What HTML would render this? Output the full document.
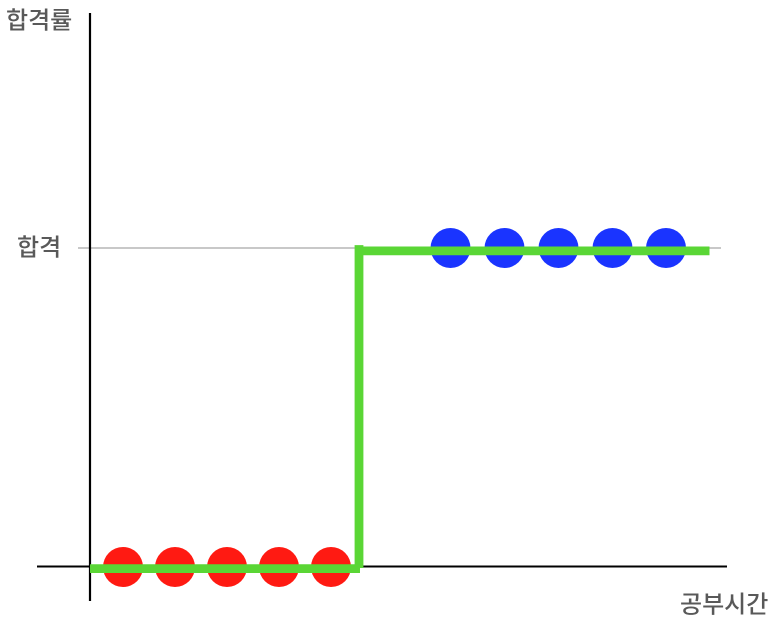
<!DOCTYPE html>
<html lang="ko">
<head>
<meta charset="utf-8">
<title>공부시간과 합격률</title>
<style>
html,body{margin:0;padding:0;background:#fff;width:773px;height:627px;overflow:hidden}
svg{display:block}
text{font-family:"Liberation Sans","Noto Sans CJK KR",sans-serif;font-size:24px;font-weight:500;fill:#595959}
</style>
</head>
<body>
<svg id="chart" width="773" height="627" viewBox="0 0 773 627" xmlns="http://www.w3.org/2000/svg">
  <line x1="78" y1="248" x2="721" y2="248" stroke="#a8a8a8" stroke-width="1.2"/>
  <line x1="37" y1="566.5" x2="727" y2="566.5" stroke="#000" stroke-width="2"/>
  <line x1="90" y1="13" x2="90" y2="601" stroke="#000" stroke-width="2.2"/>
  <text x="6" y="28.5">합격률</text>
  <text x="17" y="255.5">합격</text>
  <text x="680" y="612.5">공부시간</text>
  <g id="marks"></g>
  <g id="step"></g>
</svg>
<script>
var failHours = [3.3, 8.5, 13.7, 18.9, 24.1];
var failValues = [0, 0, 0, 0, 0];
var passHours = [36.05, 41.45, 46.85, 52.25, 57.6];
var passValues = [1, 1, 1, 1, 1];
var stepHours = [0, 27, 26.9, 26.9, 26.9, 61.95];
var stepValues = [-0.005, -0.005, -0.003, 1.009, 0.991, 0.991];

function xScale(h) { return 90 + h * 10; }
function yScale(v) { return 567 - v * 319; }

var NS = 'http://www.w3.org/2000/svg';
var marks = document.getElementById('marks');
var step = document.getElementById('step');

function addPoints(hours, values, color, name) {
  hours.forEach(function (h, i) {
    var c = document.createElementNS(NS, 'circle');
    c.setAttribute('cx', xScale(h));
    c.setAttribute('cy', yScale(values[i]));
    c.setAttribute('r', 20);
    c.setAttribute('fill', color);
    
    
    marks.appendChild(c);
  });
}
addPoints(failHours, failValues, '#ff1a12', 'fail-point');
addPoints(passHours, passValues, '#1a34ff', 'pass-point');

for (var i = 0; i < stepHours.length - 1; i += 2) {
  var seg = document.createElementNS(NS, 'line');
  seg.setAttribute('x1', xScale(stepHours[i]));
  seg.setAttribute('y1', yScale(stepValues[i]));
  seg.setAttribute('x2', xScale(stepHours[i + 1]));
  seg.setAttribute('y2', yScale(stepValues[i + 1]));
  seg.setAttribute('stroke', '#5ad635');
  seg.setAttribute('stroke-width', 8.8);
  
  
  step.appendChild(seg);
}
</script>
</body>
</html>
